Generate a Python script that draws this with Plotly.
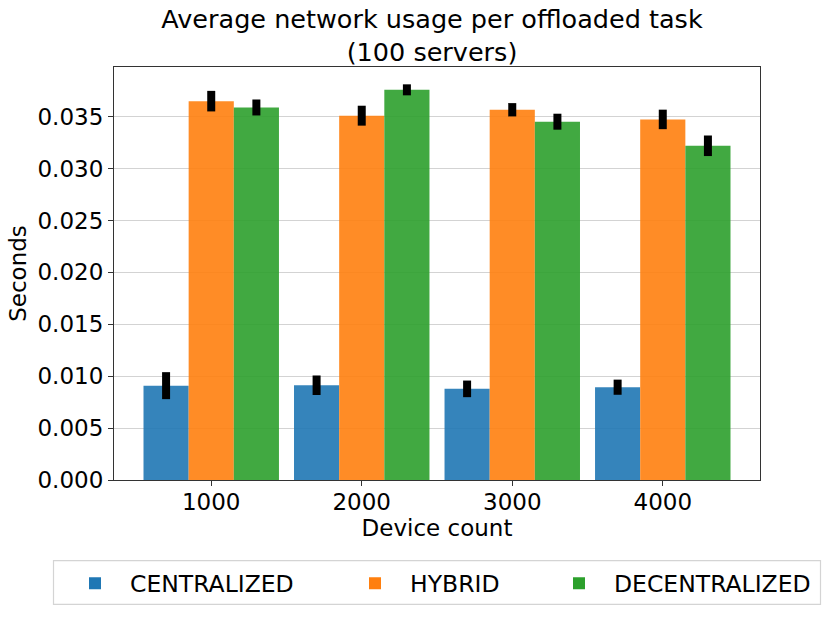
import plotly.graph_objects as go

categories = ["1000", "2000", "3000", "4000"]
series_names = ["CENTRALIZED", "HYBRID", "DECENTRALIZED"]
centralized = [0.00909, 0.00913, 0.00878, 0.00894]
hybrid = [0.03650, 0.03510, 0.03567, 0.03474]
decentralized = [0.03589, 0.03759, 0.03452, 0.03220]
centralized_err = [0.00130, 0.00094, 0.00080, 0.00073]
hybrid_err = [0.00099, 0.00096, 0.00064, 0.00094]
decentralized_err = [0.00077, 0.00053, 0.00077, 0.00099]
y_ticks = [0.0, 0.005, 0.010, 0.015, 0.020, 0.025, 0.030, 0.035]

colors = ["#1f77b4", "#ff7f0e", "#2ca02c"]
values = [centralized, hybrid, decentralized]
errors = [centralized_err, hybrid_err, decentralized_err]
legend_ids = ["legend", "legend2", "legend3"]

FONT = "DejaVu Sans"
W, H = 831, 617
ML, MR, MT, MB = 114, 71, 67, 135
PW, PH = W - ML - MR, H - MT - MB

def px_x(x):
    return (x - ML) / PW

def px_y(y):
    return (H - MB - y) / PH

fig = go.Figure()
for name, vals, errs, col, lg in zip(series_names, values, errors, colors, legend_ids):
    fig.add_trace(go.Bar(
        x=categories, y=vals, name=name, legend=lg,
        marker=dict(color=col, opacity=0.9, line=dict(width=0)),
        error_y=dict(type="data", array=errs, visible=True,
                     color="black", thickness=8, width=0),
    ))

leg_common = dict(orientation="h", xanchor="left", yanchor="middle",
                  bgcolor="rgba(0,0,0,0)", borderwidth=0,
                  font=dict(family=FONT, size=23.5, color="black"),
                  itemwidth=60)
legend_left = [60, 340, 544]
fig.update_layout(
    width=W, height=H,
    paper_bgcolor="white", plot_bgcolor="white",
    margin=dict(l=ML, r=MR, t=MT, b=MB),
    barmode="group", bargap=0.1, bargroupgap=0,
    font=dict(family=FONT, size=23, color="black"),
    title=dict(text="Average network usage per offloaded task<br>(100 servers)",
               x=px_x(432), xref="paper", xanchor="center",
               y=1 - 28 / H, yref="container", yanchor="top",
               font=dict(family=FONT, size=25.5, color="black")),
    legend=dict(x=px_x(legend_left[0]), y=px_y(586), **leg_common),
    legend2=dict(x=px_x(legend_left[1]), y=px_y(586), **leg_common),
    legend3=dict(x=px_x(legend_left[2]), y=px_y(586), **leg_common),
    showlegend=True,
    shapes=[dict(type="rect", xref="paper", yref="paper",
                 x0=px_x(53.5), x1=px_x(820.5), y0=px_y(607), y1=px_y(563),
                 line=dict(color="#d4d4d4", width=1.2), fillcolor="rgba(0,0,0,0)")],
)
fig.update_xaxes(
    type="category", range=[-0.646, 3.646],
    showline=True, mirror=True, linecolor="#333333", linewidth=1.2,
    ticks="outside", ticklen=5, tickcolor="#333333",
    ticklabelstandoff=-4,
    showgrid=False,
    title=dict(text="Device count", standoff=0, font=dict(size=23)),
    tickfont=dict(size=23),
)
fig.update_yaxes(
    range=[0, 0.03979],
    tickvals=y_ticks, ticktext=[f"{v:.3f}" for v in y_ticks],
    showline=True, mirror=True, linecolor="#333333", linewidth=1.2,
    ticks="outside", ticklen=5, tickcolor="#333333",
    showgrid=True, gridcolor="#d3d3d3", gridwidth=1,
    zeroline=False,
    title=dict(text="Seconds", standoff=4, font=dict(size=23)),
    tickfont=dict(size=23),
)

fig.write_html("out.html", config={"displayModeBar": False},
               post_script="document.body.style.margin='0';")
